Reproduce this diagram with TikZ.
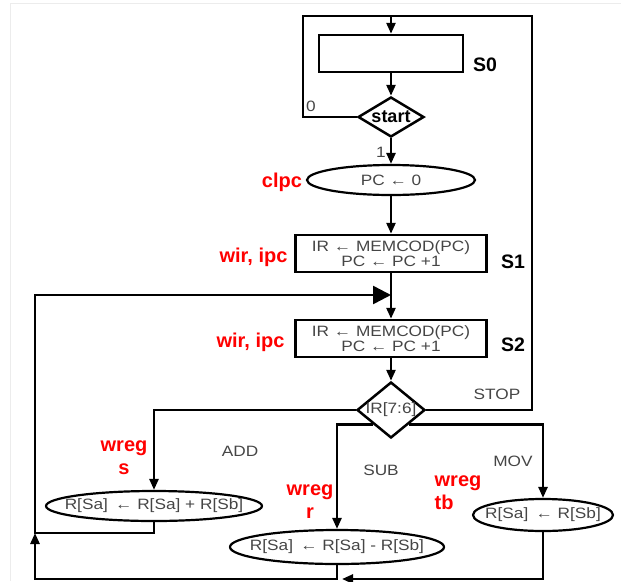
\documentclass[tikz,border=0pt]{standalone}
\usepackage{fontspec}
\setmainfont{Liberation Sans}
\newfontfamily\nodefont[FakeStretch=1.15]{Liberation Sans}
\usetikzlibrary{shapes.geometric,arrows.meta}
\definecolor{txtgray}{HTML}{454545}
\definecolor{sigred}{HTML}{FF0000}
\begin{document}
\begin{tikzpicture}[x=1pt,y=-1pt,line width=2.5pt,
		arr/.style={-{Triangle[length=11pt,width=9pt]}},
		bigarr/.style={-{Triangle[length=18pt,width=18pt]}},
		box/.style={draw,rectangle,minimum width=191pt,minimum height=37pt,inner sep=0pt,align=center,text=txtgray,font=\nodefont\fontsize{15}{15}\selectfont},
		oval/.style={draw,ellipse,inner xsep=-25pt,inner ysep=0pt,line width=2.2pt,text=txtgray,font=\nodefont\fontsize{15}{15}\selectfont},
		decision/.style={draw,diamond,inner sep=0pt},
		lbl/.style={text=txtgray,font=\nodefont\fontsize{15}{15}\selectfont},
		state/.style={font=\fontsize{19.5}{22}\selectfont\bfseries},
		sig/.style={text=sigred,font=\fontsize{20}{23}\selectfont\bfseries}]
		\useasboundingbox (0,0) rectangle (621,581);
		\draw[gray!15,line width=1pt] (10.5,581) -- (10.5,3.5) -- (621,3.5);
		\node[box,minimum width=144pt] (s0) at (391,53.5) {};
		\node[decision,aspect=1.65,minimum width=66pt,minimum height=40pt,font=\fontsize{18}{18}\selectfont\bfseries] (start) at (391,117) {start};
		\node[oval,minimum width=168pt,minimum height=30pt] (pc0) at (391,180) {PC ← 0};
		\node[box] (s1) at (391,253.5) {IR ← MEMCOD(PC)\\PC ← PC +1};
		\node[box] (s2) at (391,338.5) {IR ← MEMCOD(PC)\\PC ← PC +1};
		\node[decision,aspect=1.21,minimum width=68pt,minimum height=56pt,text=txtgray,font=\nodefont\fontsize{15}{15}\selectfont] (ir) at (391,410) {IR[7:6]};
		\node[oval,minimum width=216pt,minimum height=30pt] (add) at (154,506) {R[Sa] \,← R[Sa] + R[Sb]};
		\node[oval,minimum width=214pt,minimum height=34pt] (sub) at (337,547) {R[Sa] \,← R[Sa] - R[Sb]};
		\node[oval,minimum width=140pt,minimum height=32pt,inner xsep=-15pt] (mov) at (543,515) {R[Sa] \,← R[Sb]};
		\node[state] (s0l) at (485,65) {S0};
		\node[state] (s1l) at (513,262) {S1};
		\node[state] (s2l) at (513,345) {S2};
		\node[sig] (clpc) at (282,182) {clpc};
		\node[sig,anchor=east] (wir1) at (292,257) {wir, ipc};
		\node[sig,anchor=east] (wir2) at (289,342) {wir, ipc};
		\node[sig,align=center] (wregs) at (124,458) {wreg\\s};
		\node[sig,align=center] (wregr) at (310,502) {wreg\\r};
		\node[sig,align=left] (wregtb) at (458,493) {wreg\\tb};
		\node[lbl] (addl) at (240,451) {ADD};
		\node[lbl] (subl) at (381,470) {SUB};
		\node[lbl] (movl) at (513,461) {MOV};
		\node[lbl] (stopl) at (497,394) {STOP};
		\node[lbl] (zero) at (311,106) {0};
		\node[lbl] (one) at (381,152) {1};
		\coordinate (tl) at (303,16);
		\coordinate (tr) at (532,16);
		\coordinate (merge) at (391,295);
		\coordinate (lb) at (35,533);
		\coordinate (bl) at (35,579);
		\coordinate (jn) at (342,579);
		\draw[arr] (start.west) -| (tl) -| (s0.north);
		\draw (ir.east) -| (tr) -- (tl);
		\draw[arr] (s0.south) -- (start.north);
		\draw[arr] (start.south) -- (pc0.north);
		\draw[arr] (pc0.south) -- (s1.north);
		\draw (s1.south) -- (merge);
		\draw[arr] (merge) -- (s2.north);
		\draw[bigarr] (add.south) |- (lb) |- (merge);
		\draw[arr] (s2.south) -- (ir.north);
		\draw[arr] (ir.west) -| (add.north);
		\draw[arr] (ir.south west) -| (sub.north);
		\draw[arr] (ir.south east) -| (mov.north);
		\draw[arr] (mov.south) |- (jn);
		\draw[arr] (sub.south) |- (bl) -- (lb);
	\end{tikzpicture}
\end{document}
